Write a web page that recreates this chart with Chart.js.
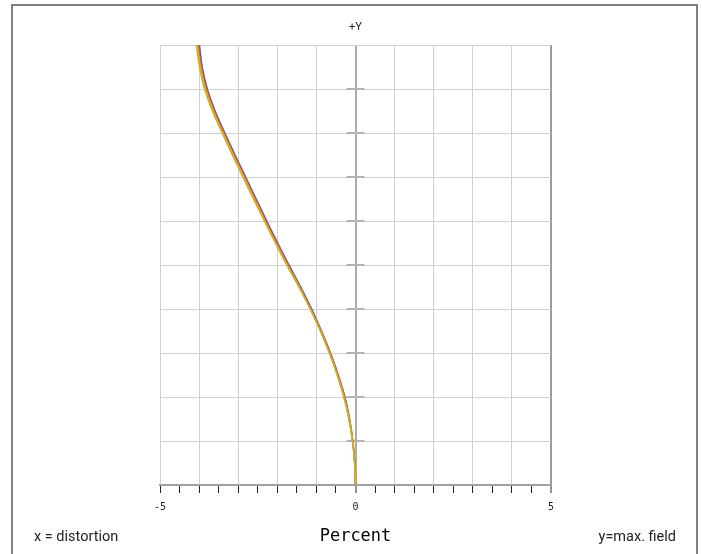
<!DOCTYPE html>
<html>
<head>
<meta charset="utf-8">
<script src="https://cdn.jsdelivr.net/npm/chart.js@4/dist/chart.umd.min.js"></script>
<style>
html,body{margin:0;padding:0;background:#fff;}
canvas{display:block;}
</style>
</head>
<body>
<canvas id="c" width="702" height="554"></canvas>
<script>
// relative field height (y) and distortion in percent (x) per wavelength
const fieldY = [0, 0.05, 0.1, 0.15, 0.2, 0.25, 0.3, 0.35, 0.4, 0.45, 0.5, 0.55, 0.6, 0.65, 0.7, 0.75, 0.8, 0.85, 0.9, 0.95, 1.0];
const distBlue   = [0, -0.02, -0.07, -0.15, -0.27, -0.44, -0.64, -0.87, -1.12, -1.40, -1.70, -1.99, -2.27, -2.54, -2.81, -3.08, -3.34, -3.59, -3.79, -3.92, -3.99];
const distRed    = [0, -0.02, -0.07, -0.16, -0.28, -0.45, -0.65, -0.88, -1.14, -1.42, -1.72, -2.01, -2.29, -2.56, -2.83, -3.10, -3.36, -3.61, -3.81, -3.94, -4.02];
const distOrange = [0, -0.02, -0.07, -0.16, -0.29, -0.46, -0.66, -0.89, -1.15, -1.43, -1.74, -2.03, -2.31, -2.58, -2.85, -3.12, -3.38, -3.63, -3.83, -3.96, -4.04];
const distYellow = [0, -0.02, -0.08, -0.17, -0.30, -0.47, -0.67, -0.90, -1.16, -1.45, -1.76, -2.05, -2.33, -2.61, -2.88, -3.15, -3.41, -3.66, -3.86, -3.99, -4.07];
const seriesColors = ['#c8b422', '#f09a2a', '#e0402c', '#2f6fd0'];
const xTickLabels = [-5, 0, 5];

const toPts = arr => arr.map((x, i) => ({x: x, y: fieldY[i]}));
const allSeries = [distYellow, distOrange, distRed, distBlue];

const decor = {
  id: 'decor',
  beforeDraw(chart) {
    const c = chart.ctx;
    c.save();
    c.fillStyle = '#fff';
    c.fillRect(0, 0, chart.width, chart.height);
    c.restore();
  },
  beforeDatasetsDraw(chart) {
    const c = chart.ctx, xs = chart.scales.x, ys = chart.scales.y;
    const x0 = xs.getPixelForValue(0);
    c.save();
    c.strokeStyle = '#b4b4b4';
    c.lineWidth = 2;
    for (let i = 1; i <= 9; i++) {
      const y = Math.round(ys.getPixelForValue(i / 10));
      c.beginPath();
      c.moveTo(x0 - 9, y);
      c.lineTo(x0 + 9, y);
      c.stroke();
    }
    c.restore();
  },
  afterDraw(chart) {
    const c = chart.ctx, xs = chart.scales.x;
    c.save();
    c.strokeStyle = '#808080';
    c.lineWidth = 2;
    c.strokeRect(12, 5, 685, 620);
    c.fillStyle = '#222';
    c.textBaseline = 'middle';
    c.font = '11px Roboto';
    c.textAlign = 'center';
    c.fillText('+Y', xs.getPixelForValue(0), 27);
    c.font = '14.5px Roboto';
    c.textAlign = 'left';
    c.fillText('x = distortion', 34, 537);
    c.textAlign = 'right';
    c.fillText('y=max. field', 676, 537);
    c.restore();
  }
};

new Chart(document.getElementById('c'), {
  type: 'scatter',
  data: {
    datasets: allSeries.map((arr, i) => ({
      data: toPts(arr),
      showLine: true,
      borderColor: seriesColors[i],
      backgroundColor: seriesColors[i],
      borderWidth: 1.5,
      pointRadius: 0,
      tension: 0.4
    }))
  },
  options: {
    responsive: false,
    animation: false,
    devicePixelRatio: 1,
    layout: {padding: {left: 0, right: 151, top: 45, bottom: 0}},
    plugins: {legend: {display: false}, tooltip: {enabled: false}},
    scales: {
      x: {
        type: 'linear',
        min: -5, max: 5,
        afterFit: s => { s.height = 69; },
        ticks: {
          stepSize: 0.5,
          autoSkip: false,
          maxRotation: 0,
          padding: 8,
          color: '#222',
          font: {family: 'DejaVu Sans Mono', size: 10},
          callback: v => xTickLabels.includes(v) ? String(v) : ''
        },
        grid: {
          color: ctx => {
            const v = ctx.tick ? ctx.tick.value : null;
            if (v === 5) return '#9a9a9a';
            if (v === 0) return '#ababab';
            if (v !== null && Number.isInteger(v)) return '#d0d0d0';
            return 'rgba(0,0,0,0)';
          },
          lineWidth: ctx => {
            const v = ctx.tick ? ctx.tick.value : null;
            return (v === 0 || v === 5) ? 2 : 1;
          },
          tickColor: '#222',
          tickWidth: 1,
          tickLength: 8
        },
        border: {display: true, color: '#a0a0a0', width: 2},
        title: {
          display: true,
          text: 'Percent',
          color: '#000',
          font: {family: 'DejaVu Sans Mono', size: 17},
          padding: {top: 4, bottom: 7}
        }
      },
      y: {
        type: 'linear',
        min: 0, max: 1,
        afterFit: s => { s.width = 160; },
        ticks: {display: false, stepSize: 0.1},
        grid: {color: '#d0d0d0', lineWidth: 1, drawTicks: false},
        border: {display: false}
      }
    }
  },
  plugins: [decor]
});
</script>
</body>
</html>
